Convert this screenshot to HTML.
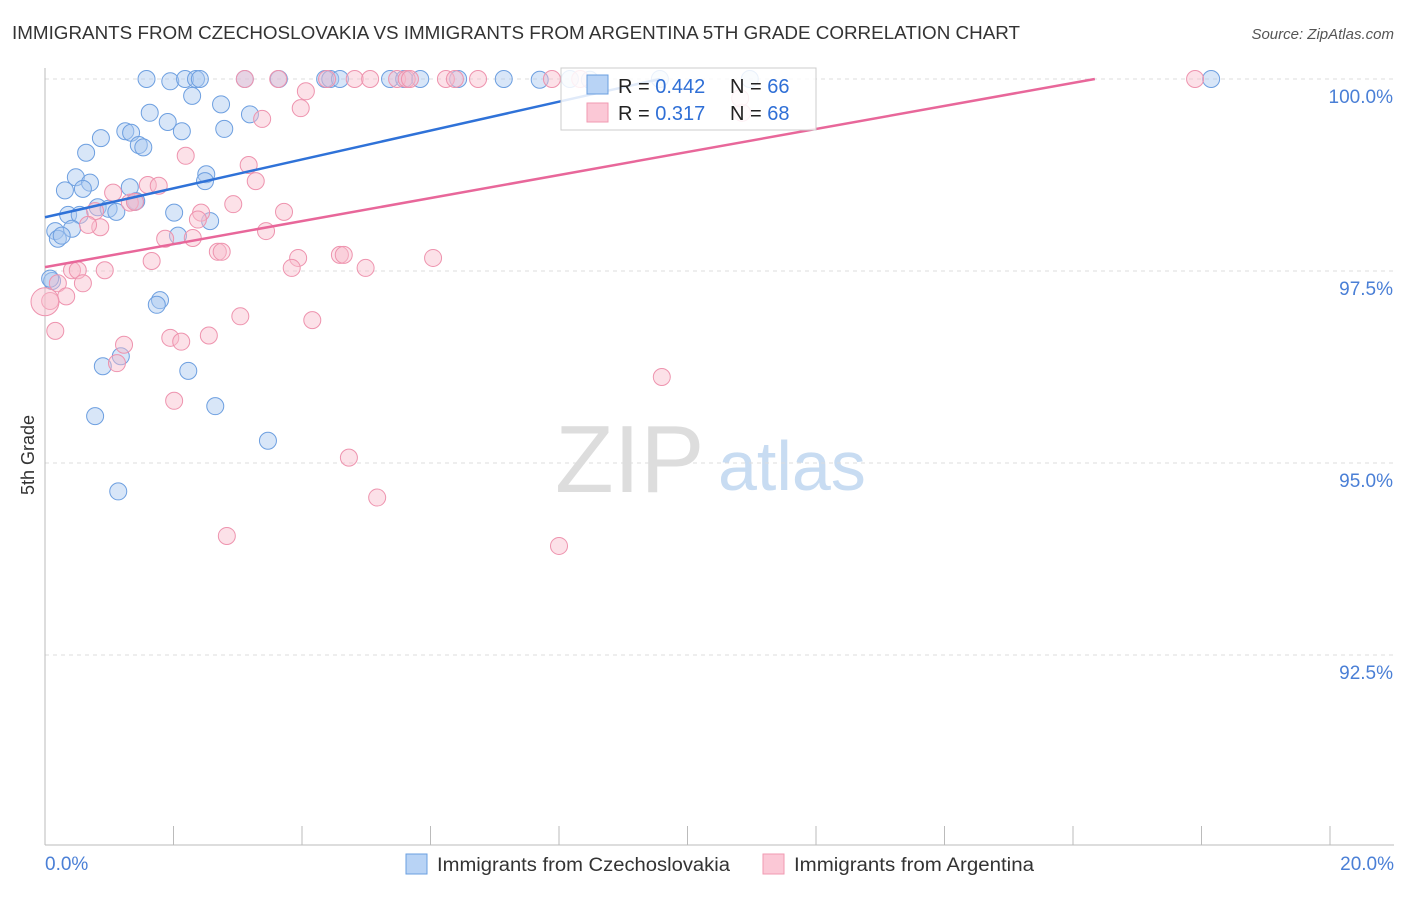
<!DOCTYPE html>
<html><head><meta charset="utf-8"><style>
body{margin:0;background:#fff;font-family:"Liberation Sans",sans-serif;}
svg text{font-family:"Liberation Sans",sans-serif;}
</style></head><body>
<svg id="chart" width="1406" height="892" xmlns="http://www.w3.org/2000/svg">
<text x="12" y="39" font-size="18" fill="#333" textLength="1008" lengthAdjust="spacingAndGlyphs">IMMIGRANTS FROM CZECHOSLOVAKIA VS IMMIGRANTS FROM ARGENTINA 5TH GRADE CORRELATION CHART</text>
<text x="1394" y="39" font-size="15" fill="#555" font-style="italic" text-anchor="end">Source: ZipAtlas.com</text>
<text x="34" y="455" font-size="18" fill="#333" transform="rotate(-90 34 455)" text-anchor="middle">5th Grade</text>
<text x="555" y="492" font-size="96" fill="#ddd" font-family="Liberation Serif">ZIP</text>
<text x="718" y="490" font-size="70" fill="#c8dcf2">atlas</text>
<g id="grid"></g><g id="pts"></g><g id="lines"></g>
<g>
<rect x="561" y="68" width="255" height="62" fill="#fff" fill-opacity="0.85" stroke="#ccc"/>
<rect x="587" y="75" width="21" height="19" fill="#b8d3f5" stroke="#6a9fe0"/>
<rect x="587" y="103" width="21" height="19" fill="#fbc8d6" stroke="#f09ab2"/>
<text x="618" y="93" font-size="20" fill="#222">R = <tspan fill="#2f6fd6">0.442</tspan></text>
<text x="730" y="93" font-size="20" fill="#222">N = <tspan fill="#2f6fd6">66</tspan></text>
<text x="618" y="120" font-size="20" fill="#222">R = <tspan fill="#2f6fd6"> 0.317</tspan></text>
<text x="730" y="120" font-size="20" fill="#222">N = <tspan fill="#2f6fd6">68</tspan></text>
</g>
<g>
<rect x="406" y="854" width="21" height="20" fill="#b8d3f5" stroke="#6a9fe0"/>
<text x="437" y="871" font-size="19" fill="#333" textLength="293" lengthAdjust="spacingAndGlyphs">Immigrants from Czechoslovakia</text>
<rect x="763" y="854" width="21" height="20" fill="#fbc8d6" stroke="#f09ab2"/>
<text x="794" y="871" font-size="19" fill="#333" textLength="240" lengthAdjust="spacingAndGlyphs">Immigrants from Argentina</text>
</g>
</svg>
<script>
const yTicks=[100,97.5,95,92.5];
const yTickLabels=["100.0%","97.5%","95.0%","92.5%"];
const xTicks=[0,2,4,6,8,10,12,14,16,18,20];
const blueX=[1.58,1.95,2.18,2.35,2.41,3.11,3.64,4.36,4.44,4.59,5.37,5.59,5.84,6.43,7.14,2.29,2.74,1.63,3.19,1.91,2.13,2.79,1.25,1.34,0.87,1.46,1.53,0.64,0.48,0.70,2.51,2.49,0.31,0.59,1.32,1.42,0.82,0.99,1.11,0.36,0.54,2.01,2.57,0.16,0.42,0.20,0.26,2.07,0.11,1.79,1.74,1.18,0.90,2.23,0.78,2.65,3.47,1.14,18.15,10.97,9.57,8.17,0.08,1.40,7.70,8.48];
const blueY=[100,99.97,100,100,100,100,100,100,100,100,100,100,100,100,100,99.78,99.67,99.56,99.54,99.44,99.32,99.35,99.32,99.30,99.23,99.14,99.11,99.04,98.72,98.65,98.76,98.67,98.55,98.57,98.59,98.41,98.33,98.31,98.27,98.23,98.23,98.26,98.15,98.02,98.05,97.92,97.96,97.96,97.37,97.12,97.06,96.39,96.26,96.20,95.61,95.74,95.29,94.63,100,100,100,100,97.40,98.40,99.99,99.99];
const pinkX=[3.11,3.63,4.06,3.98,4.39,4.82,5.06,5.48,5.63,5.68,6.24,6.38,6.74,7.89,8.33,17.90,3.38,10.85,2.19,3.17,3.28,1.60,1.77,1.32,1.06,0.78,0.86,0.67,2.93,3.72,2.43,2.38,1.87,2.30,3.44,2.69,2.75,3.94,4.59,4.65,4.99,3.84,6.04,1.66,0.42,0.51,0.93,0.20,0.59,0.33,0.08,0.16,4.16,3.04,1.95,2.12,2.55,1.23,1.12,2.01,9.60,4.73,5.17,2.83,8.00,0,10.82,1.40];
const pinkY=[100,100,99.84,99.62,100,100,100,100,100,100,100,100,100,100,100,100,99.48,99.56,99.00,98.88,98.67,98.62,98.61,98.39,98.52,98.28,98.07,98.10,98.37,98.27,98.26,98.17,97.92,97.93,98.02,97.75,97.75,97.67,97.71,97.71,97.54,97.54,97.67,97.63,97.51,97.51,97.51,97.34,97.34,97.17,97.11,96.72,96.86,96.91,96.63,96.58,96.66,96.54,96.30,95.81,96.12,95.07,94.55,94.05,93.92,97.10,99.75,98.40];
const blueLine=[[0,98.20],[9.57,100]];
const pinkLine=[[0,97.55],[16.34,100]];
const sx=v=>45+v*64.25, sy=v=>79+(100-v)*76.8;
const NS="http://www.w3.org/2000/svg";
function mk(t,a,p){const e=document.createElementNS(NS,t);for(const k in a)e.setAttribute(k,a[k]);document.getElementById(p).appendChild(e);return e;}
yTicks.forEach((v,i)=>{
 const g=mk('line',{x1:45,x2:1394,y1:sy(v),y2:sy(v),stroke:'#ddd','stroke-dasharray':'4,4'},'grid');
 
 
 const t=mk('text',{x:1393,y:sy(v)+24,'font-size':19,fill:'#4a7fd6','text-anchor':'end'},'grid');t.textContent=yTickLabels[i];
 
 
});
const ax=mk('line',{x1:45,x2:45,y1:68,y2:845,stroke:'#bbb'},'grid');


const bx=mk('line',{x1:45,x2:1394,y1:845,y2:845,stroke:'#bbb'},'grid');


xTicks.forEach(v=>{const l=mk('line',{x1:sx(v),x2:sx(v),y1:826,y2:845,stroke:'#bbb'},'grid');
 
 });
let t0=mk('text',{x:45,y:870,'font-size':19,fill:'#4a7fd6'},'grid');t0.textContent='0.0%';


let t1=mk('text',{x:1394,y:870,'font-size':19,fill:'#4a7fd6','text-anchor':'end'},'grid');t1.textContent='20.0%';


blueX.forEach((x,i)=>{const c=mk('circle',{cx:sx(x),cy:sy(blueY[i]),r:8.5,fill:'#a9c8f0','fill-opacity':0.45,stroke:'#6d9fe0','stroke-width':1},'pts');
 
 });
pinkX.forEach((x,i)=>{const c=mk('circle',{cx:sx(x),cy:sy(pinkY[i]),r:(i===65?14:8.5),fill:'#f8bccd','fill-opacity':0.45,stroke:'#ee93ae','stroke-width':1},'pts');
 
 });
const bl=mk('line',{x1:sx(blueLine[0][0]),y1:sy(blueLine[0][1]),x2:sx(blueLine[1][0]),y2:sy(blueLine[1][1]),stroke:'#2f72d8','stroke-width':2.5},'lines');


const pl=mk('line',{x1:sx(pinkLine[0][0]),y1:sy(pinkLine[0][1]),x2:sx(pinkLine[1][0]),y2:sy(pinkLine[1][1]),stroke:'#e8679a','stroke-width':2.5},'lines');


</script>
</body></html>
